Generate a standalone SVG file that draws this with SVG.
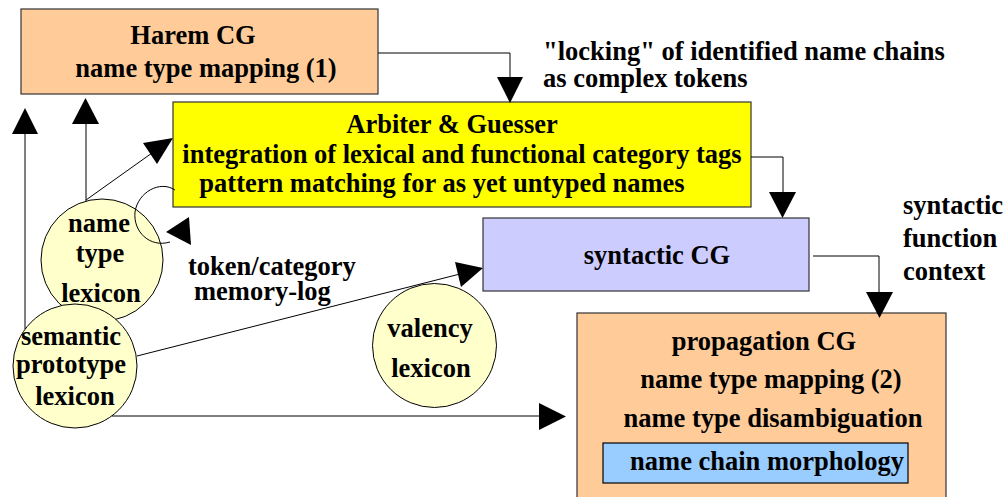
<svg xmlns="http://www.w3.org/2000/svg" width="1008" height="497" viewBox="0 0 1008 497">
<rect width="1008" height="497" fill="#fff"/>
<g id="harem">
<rect x="21" y="9" width="357" height="85" fill="#FFCC99" stroke="#333" stroke-width="1.2"/>
<text text-anchor="middle" x="193" y="44" style="font-family:'Liberation Serif',serif;font-weight:bold;font-size:26.5px">Harem CG</text>
<text text-anchor="middle" x="206" y="77" style="font-family:'Liberation Serif',serif;font-weight:bold;font-size:26.5px">name type mapping (1)</text>
</g>
<g id="arbiter">
<rect x="173" y="102" width="578" height="105" fill="#FFFF00" stroke="#333" stroke-width="1.2"/>
<text text-anchor="middle" x="452" y="133" style="font-family:'Liberation Serif',serif;font-weight:bold;font-size:26.5px">Arbiter &amp; Guesser</text>
<text text-anchor="middle" x="462" y="163" style="font-family:'Liberation Serif',serif;font-weight:bold;font-size:26.5px">integration of lexical and functional category tags</text>
<text text-anchor="middle" x="442" y="192" style="font-family:'Liberation Serif',serif;font-weight:bold;font-size:26.5px">pattern matching for as yet untyped names</text>
</g>
<g id="syntactic">
<rect x="483" y="218" width="326" height="73" fill="#CCCCFF" stroke="#333" stroke-width="1.2"/>
<text text-anchor="middle" x="657" y="264" style="font-family:'Liberation Serif',serif;font-weight:bold;font-size:26.5px">syntactic CG</text>
</g>
<g id="propagation">
<rect x="577" y="313" width="369" height="200" fill="#FFCC99" stroke="#333" stroke-width="1.2"/>
<text text-anchor="middle" x="764" y="350" style="font-family:'Liberation Serif',serif;font-weight:bold;font-size:26.5px">propagation CG</text>
<text text-anchor="middle" x="771" y="388" style="font-family:'Liberation Serif',serif;font-weight:bold;font-size:26.5px">name type mapping (2)</text>
<text text-anchor="middle" x="773" y="427" style="font-family:'Liberation Serif',serif;font-weight:bold;font-size:26.5px">name type disambiguation</text>
<g id="morphology">
<rect x="603" y="443" width="305" height="40" fill="#99CCFF" stroke="#000" stroke-width="1.2"/>
<text text-anchor="middle" x="767" y="470" style="font-family:'Liberation Serif',serif;font-weight:bold;font-size:26.5px">name chain morphology</text>
</g>
</g>
<g id="nametype">
<circle cx="102" cy="260" r="61" fill="#FFFFCC" stroke="#000" stroke-width="1"/>
<text text-anchor="middle" x="99" y="232" style="font-family:'Liberation Serif',serif;font-weight:bold;font-size:26.5px">name</text>
<text text-anchor="middle" x="100" y="262" style="font-family:'Liberation Serif',serif;font-weight:bold;font-size:26.5px">type</text>
<text text-anchor="middle" x="101" y="302" style="font-family:'Liberation Serif',serif;font-weight:bold;font-size:26.5px">lexicon</text>
</g>
<g id="semantic">
<circle cx="75" cy="366" r="62" fill="#FFFFCC" stroke="#000" stroke-width="1"/>
<text text-anchor="middle" x="71" y="345" style="font-family:'Liberation Serif',serif;font-weight:bold;font-size:26.5px">semantic</text>
<text text-anchor="middle" x="71" y="373" style="font-family:'Liberation Serif',serif;font-weight:bold;font-size:26.5px">prototype</text>
<text text-anchor="middle" x="75" y="405" style="font-family:'Liberation Serif',serif;font-weight:bold;font-size:26.5px">lexicon</text>
</g>
<g id="valency">
<circle cx="434.5" cy="345.5" r="62" fill="#FFFFCC" stroke="#000" stroke-width="1"/>
<text text-anchor="middle" x="430" y="337" style="font-family:'Liberation Serif',serif;font-weight:bold;font-size:26.5px">valency</text>
<text text-anchor="middle" x="431" y="377" style="font-family:'Liberation Serif',serif;font-weight:bold;font-size:26.5px">lexicon</text>
</g>
<g id="labels">
<text x="543" y="60" style="font-family:'Liberation Serif',serif;font-weight:bold;font-size:26.5px">"locking" of identified name chains</text>
<text x="543" y="87" style="font-family:'Liberation Serif',serif;font-weight:bold;font-size:26.5px">as complex tokens</text>
<text x="903" y="214" style="font-family:'Liberation Serif',serif;font-weight:bold;font-size:26.5px">syntactic</text>
<text x="903" y="247" style="font-family:'Liberation Serif',serif;font-weight:bold;font-size:26.5px">function</text>
<text x="903" y="280" style="font-family:'Liberation Serif',serif;font-weight:bold;font-size:26.5px">context</text>
<text x="188" y="275" style="font-family:'Liberation Serif',serif;font-weight:bold;font-size:26.5px">token/category</text>
<text x="194" y="300" style="font-family:'Liberation Serif',serif;font-weight:bold;font-size:26.5px">memory-log</text>
</g>
<g id="connectors" fill="none" stroke="#000" stroke-width="1">
<polyline points="378,53 510,53 510,80"/>
<polygon points="497,77 523,77 510,103" fill="#000" stroke="none"/>
<polyline points="751,157 783,157 783,195"/>
<polygon points="769,192 796,192 782.5,218" fill="#000" stroke="none"/>
<polyline points="813,256 879,256 879,295"/>
<polygon points="866,292 893,292 879.5,318" fill="#000" stroke="none"/>
<line x1="25" y1="329" x2="25" y2="134"/>
<polygon points="12,134 38,134 25,108" fill="#000" stroke="none"/>
<line x1="86" y1="201" x2="86" y2="124"/>
<polygon points="72,124 99,124 85.5,98" fill="#000" stroke="none"/>
<line x1="86" y1="200" x2="152" y2="153"/>
<polygon points="143,143 157,164 173,138" fill="#000" stroke="none"/>
<path d="M175,190 C160,180 138,192 135,212 C133,232 150,248 170,242"/>
<polygon points="166,232 189,217 191,245" fill="#000" stroke="none"/>
<line x1="137" y1="356" x2="460" y2="274"/>
<polygon points="455,262 461,287 483,268" fill="#000" stroke="none"/>
<line x1="112" y1="416" x2="540" y2="416"/>
<polygon points="539,403 539,430 566,416.5" fill="#000" stroke="none"/>
</g>
</svg>
